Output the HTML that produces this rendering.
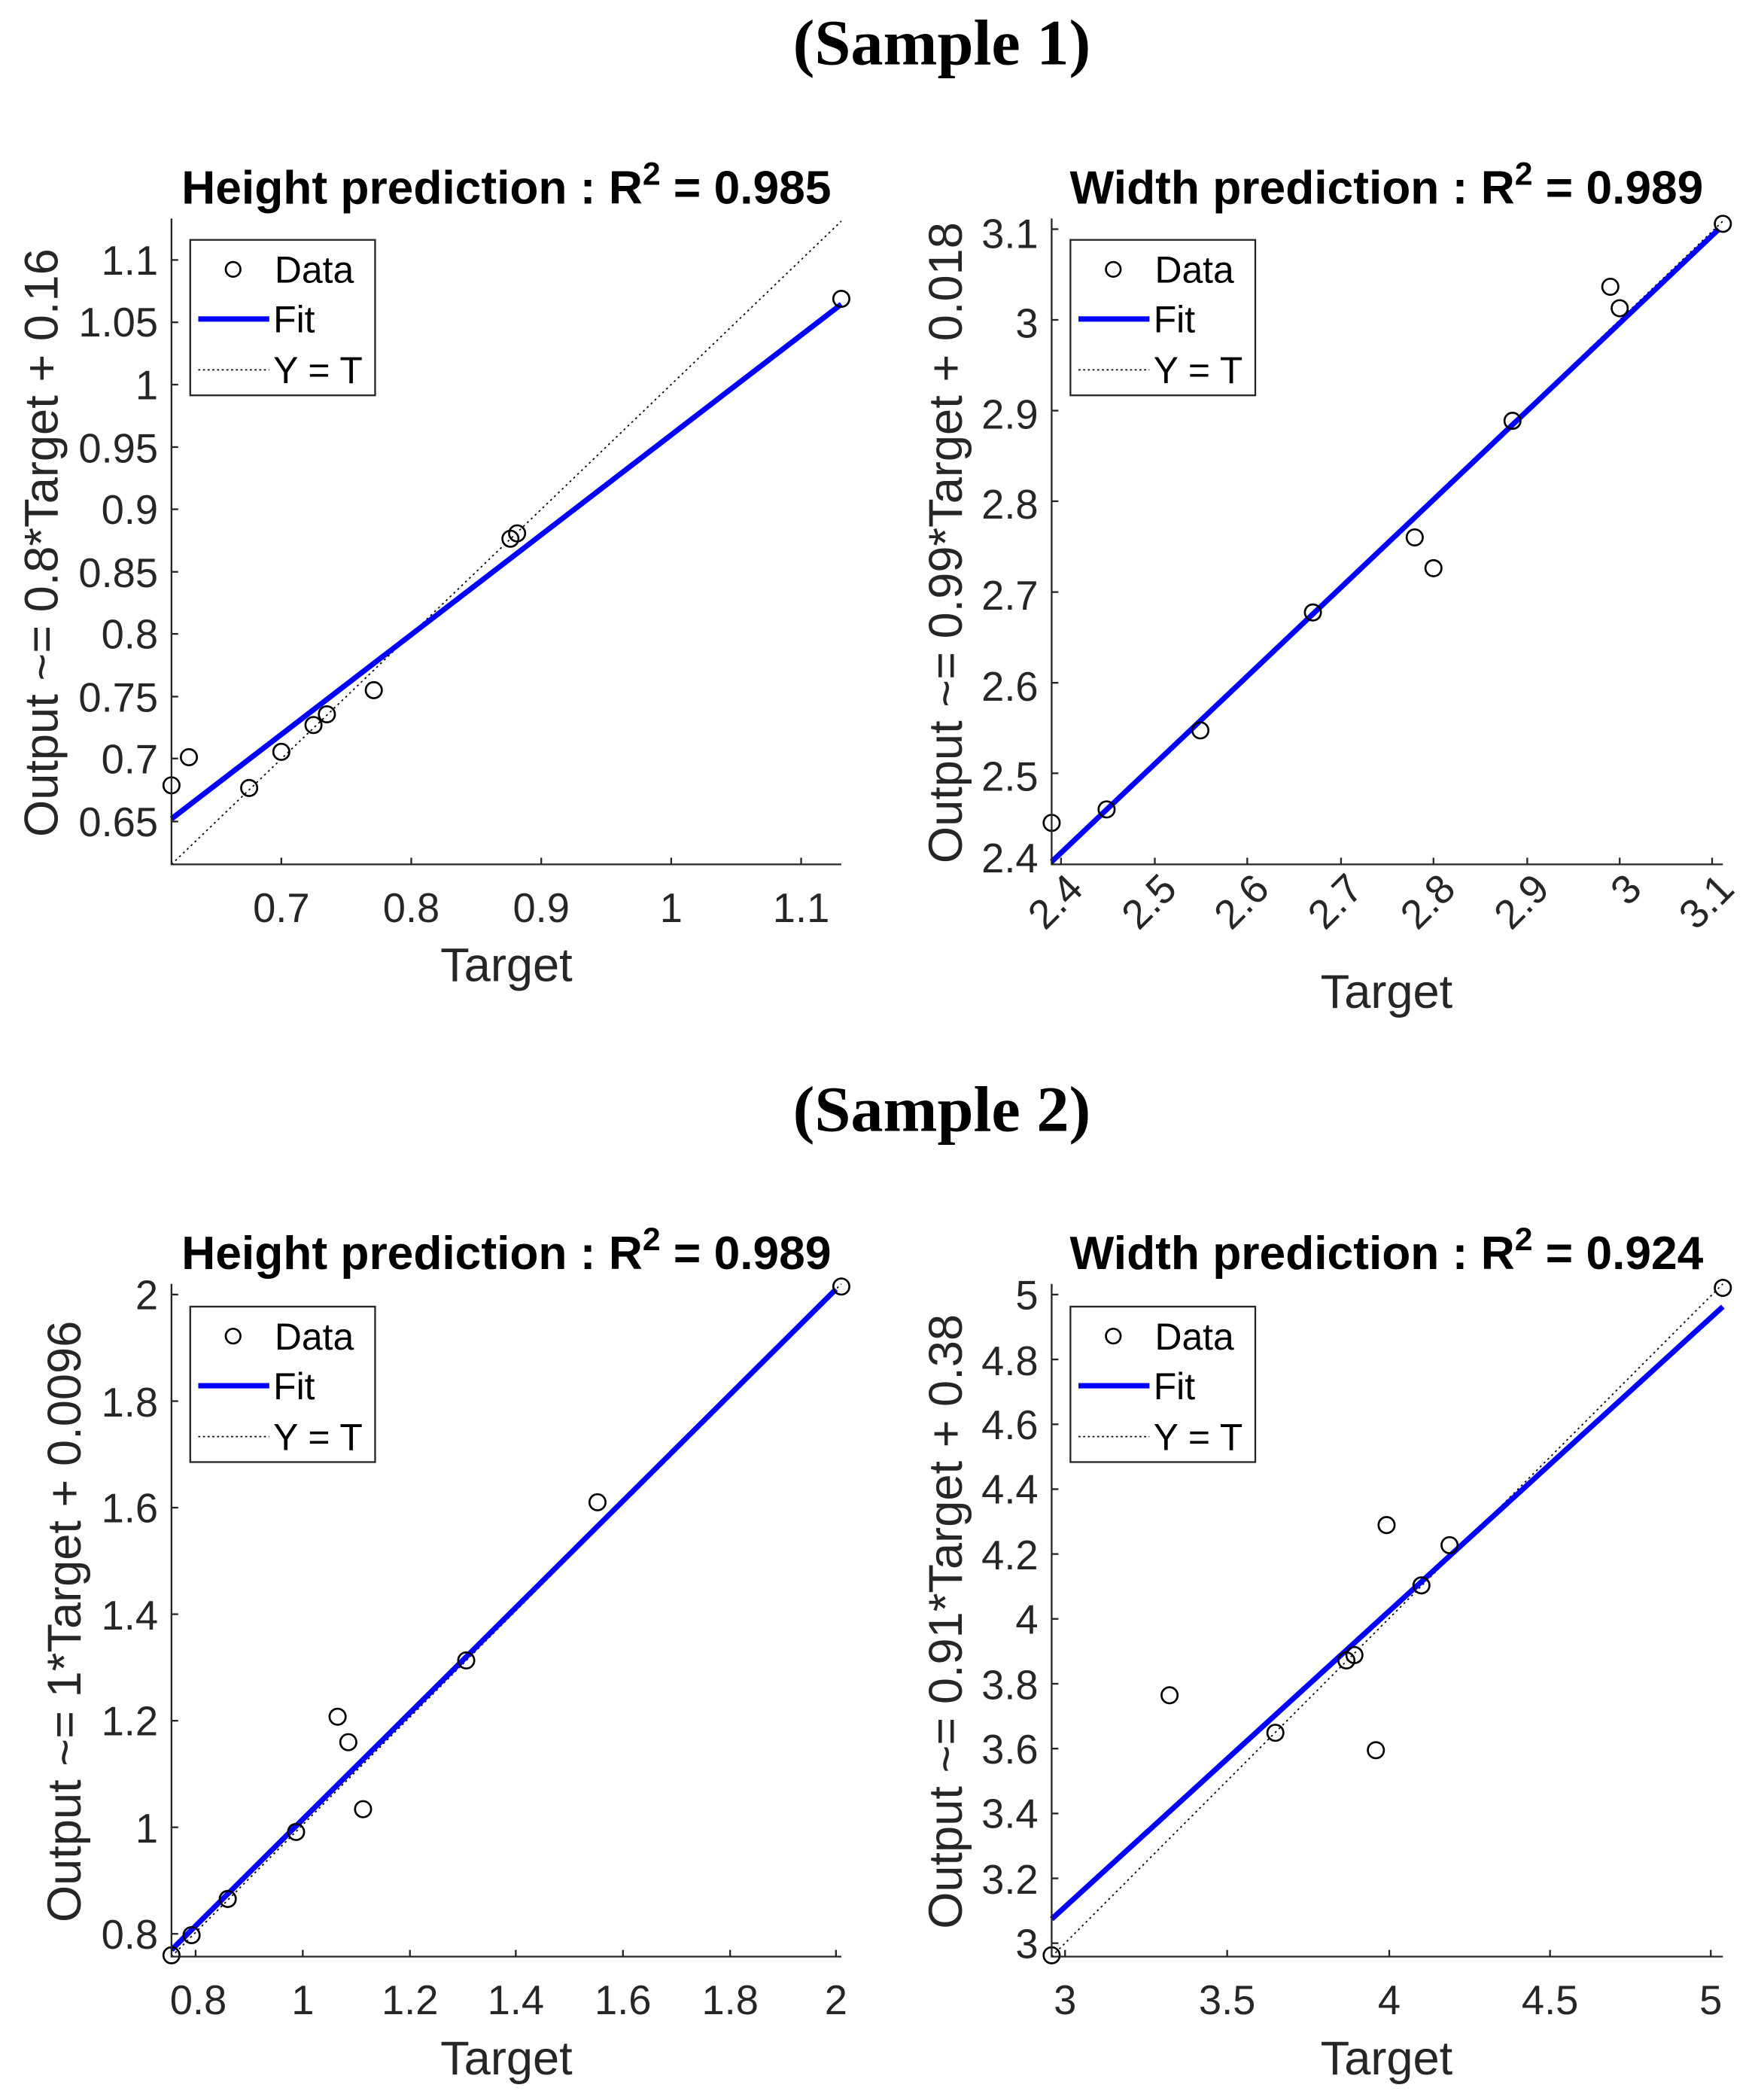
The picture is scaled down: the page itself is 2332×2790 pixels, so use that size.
<!DOCTYPE html>
<html><head><meta charset="utf-8"><style>
html,body{margin:0;padding:0;background:#fff;}
svg{display:block;}
text{font-family:"Liberation Sans",sans-serif;fill:#262626;}
.t{font-weight:bold;fill:#000;font-size:35px;}
.tk{font-size:30.5px;}
.lb{font-size:35.5px;}
.lg{font-size:28px;fill:#000;}
.hd{font-family:"Liberation Serif",serif;font-weight:bold;font-size:48.5px;fill:#000;}
</style></head><body>
<svg width="2332" height="2790" viewBox="0 0 1310 1567" preserveAspectRatio="none" xmlns="http://www.w3.org/2000/svg">
<rect width="1310" height="1567" fill="#fff"/>
<text class="hd" x="703" y="48" text-anchor="middle">(Sample 1)</text>
<text class="hd" x="703" y="844" text-anchor="middle">(Sample 2)</text>

<!-- Plot 1 -->
<g>
<text class="t" x="378" y="152" text-anchor="middle">Height prediction : R<tspan dy="-14" font-size="24">2</tspan><tspan dy="14"> = 0.985</tspan></text>
<line x1="128" y1="645" x2="628" y2="165" stroke="#000" stroke-width="1" stroke-dasharray="1.5,2.5"/>
<line x1="128" y1="611" x2="628" y2="227" stroke="#0000ff" stroke-width="4"/>
<g fill="none" stroke="#000" stroke-width="1.5">
<circle cx="128" cy="586" r="6"/><circle cx="141" cy="565" r="6"/><circle cx="186" cy="588" r="6"/><circle cx="210" cy="561" r="6"/><circle cx="234" cy="541" r="6"/><circle cx="244" cy="533" r="6"/><circle cx="279" cy="515" r="6"/><circle cx="381" cy="402" r="6"/><circle cx="386" cy="398" r="6"/><circle cx="628" cy="223" r="6"/>
</g>
<path d="M128 163 V645 H628" fill="none" stroke="#262626" stroke-width="1.3"/>
<g stroke="#262626" stroke-width="1.3">
<line x1="210" y1="645" x2="210" y2="640"/><line x1="307" y1="645" x2="307" y2="640"/><line x1="404" y1="645" x2="404" y2="640"/><line x1="501" y1="645" x2="501" y2="640"/><line x1="598" y1="645" x2="598" y2="640"/>
<line x1="128" y1="194" x2="133" y2="194"/><line x1="128" y1="240.5" x2="133" y2="240.5"/><line x1="128" y1="287" x2="133" y2="287"/><line x1="128" y1="333.6" x2="133" y2="333.6"/><line x1="128" y1="380" x2="133" y2="380"/><line x1="128" y1="426.7" x2="133" y2="426.7"/><line x1="128" y1="473" x2="133" y2="473"/><line x1="128" y1="519.8" x2="133" y2="519.8"/><line x1="128" y1="566" x2="133" y2="566"/><line x1="128" y1="613" x2="133" y2="613"/>
</g>
<g text-anchor="middle">
<text class="tk" x="210" y="688">0.7</text><text class="tk" x="307" y="688">0.8</text><text class="tk" x="404" y="688">0.9</text><text class="tk" x="501" y="688">1</text><text class="tk" x="598" y="688">1.1</text>
</g>
<g text-anchor="end">
<text class="tk" x="118" y="205">1.1</text><text class="tk" x="118" y="251">1.05</text><text class="tk" x="118" y="298">1</text><text class="tk" x="118" y="345">0.95</text><text class="tk" x="118" y="391">0.9</text><text class="tk" x="118" y="438">0.85</text><text class="tk" x="118" y="484">0.8</text><text class="tk" x="118" y="531">0.75</text><text class="tk" x="118" y="577">0.7</text><text class="tk" x="118" y="624">0.65</text>
</g>
<text class="lb" x="378" y="732" text-anchor="middle">Target</text>
<text class="lb" transform="translate(43,405) rotate(-90)" text-anchor="middle">Output ~= 0.8*Target + 0.16</text>
<rect x="142" y="179" width="138" height="116" fill="#fff" stroke="#262626" stroke-width="1.3"/>
<circle cx="174" cy="201" r="5.5" fill="none" stroke="#000" stroke-width="1.5"/>
<text class="lg" x="205" y="211">Data</text>
<line x1="148" y1="238" x2="201" y2="238" stroke="#0000ff" stroke-width="4"/>
<text class="lg" x="204" y="248">Fit</text>
<line x1="148" y1="276" x2="201" y2="276" stroke="#000" stroke-width="1" stroke-dasharray="1.5,2"/>
<text class="lg" x="204" y="286">Y = T</text>
</g>

<!-- Plot 2 -->
<g>
<text class="t" x="1035" y="152" text-anchor="middle">Width prediction : R<tspan dy="-14" font-size="24">2</tspan><tspan dy="14"> = 0.989</tspan></text>
<line x1="785" y1="645" x2="1286" y2="165" stroke="#000" stroke-width="1" stroke-dasharray="1.5,2.5"/>
<line x1="785" y1="643" x2="1283" y2="171" stroke="#0000ff" stroke-width="4"/>
<g fill="none" stroke="#000" stroke-width="1.5">
<circle cx="785" cy="614" r="6"/><circle cx="826" cy="604" r="6"/><circle cx="896" cy="545" r="6"/><circle cx="980" cy="457" r="6"/><circle cx="1056" cy="401" r="6"/><circle cx="1070" cy="424" r="6"/><circle cx="1129" cy="314" r="6"/><circle cx="1202" cy="214" r="6"/><circle cx="1209" cy="230" r="6"/><circle cx="1286" cy="167" r="6"/>
</g>
<path d="M785 163 V645 H1286" fill="none" stroke="#262626" stroke-width="1.3"/>
<g stroke="#262626" stroke-width="1.3">
<line x1="792" y1="645" x2="792" y2="640"/><line x1="862" y1="645" x2="862" y2="640"/><line x1="931" y1="645" x2="931" y2="640"/><line x1="1001" y1="645" x2="1001" y2="640"/><line x1="1070" y1="645" x2="1070" y2="640"/><line x1="1140" y1="645" x2="1140" y2="640"/><line x1="1209" y1="645" x2="1209" y2="640"/><line x1="1278" y1="645" x2="1278" y2="640"/>
<line x1="785" y1="171" x2="790" y2="171"/><line x1="785" y1="238.7" x2="790" y2="238.7"/><line x1="785" y1="306.4" x2="790" y2="306.4"/><line x1="785" y1="374" x2="790" y2="374"/><line x1="785" y1="441.8" x2="790" y2="441.8"/><line x1="785" y1="509.5" x2="790" y2="509.5"/><line x1="785" y1="577" x2="790" y2="577"/>
</g>
<g text-anchor="end">
<text class="tk" transform="translate(810,665) rotate(-45)">2.4</text>
<text class="tk" transform="translate(880,665) rotate(-45)">2.5</text>
<text class="tk" transform="translate(949,665) rotate(-45)">2.6</text>
<text class="tk" transform="translate(1019,665) rotate(-45)">2.7</text>
<text class="tk" transform="translate(1088,665) rotate(-45)">2.8</text>
<text class="tk" transform="translate(1158,665) rotate(-45)">2.9</text>
<text class="tk" transform="translate(1227,665) rotate(-45)">3</text>
<text class="tk" transform="translate(1296,665) rotate(-45)">3.1</text>
</g>
<g text-anchor="end">
<text class="tk" x="775" y="185">3.1</text><text class="tk" x="775" y="252">3</text><text class="tk" x="775" y="320">2.9</text><text class="tk" x="775" y="387">2.8</text><text class="tk" x="775" y="455">2.7</text><text class="tk" x="775" y="523">2.6</text><text class="tk" x="775" y="590">2.5</text><text class="tk" x="775" y="651">2.4</text>
</g>
<text class="lb" x="1035" y="752" text-anchor="middle">Target</text>
<text class="lb" transform="translate(718,405) rotate(-90)" text-anchor="middle">Output ~= 0.99*Target + 0.018</text>
<rect x="799" y="179" width="138" height="116" fill="#fff" stroke="#262626" stroke-width="1.3"/>
<circle cx="831" cy="201" r="5.5" fill="none" stroke="#000" stroke-width="1.5"/>
<text class="lg" x="862" y="211">Data</text>
<line x1="805" y1="238" x2="858" y2="238" stroke="#0000ff" stroke-width="4"/>
<text class="lg" x="861" y="248">Fit</text>
<line x1="805" y1="276" x2="858" y2="276" stroke="#000" stroke-width="1" stroke-dasharray="1.5,2"/>
<text class="lg" x="861" y="286">Y = T</text>
</g>

<!-- Plot 3 -->
<g>
<text class="t" x="378" y="947" text-anchor="middle">Height prediction : R<tspan dy="-14" font-size="24">2</tspan><tspan dy="14"> = 0.989</tspan></text>
<line x1="128" y1="1460" x2="628" y2="958" stroke="#000" stroke-width="1" stroke-dasharray="1.5,2.5"/>
<line x1="128" y1="1455" x2="624" y2="962" stroke="#0000ff" stroke-width="4"/>
<g fill="none" stroke="#000" stroke-width="1.5">
<circle cx="128" cy="1459" r="6"/><circle cx="143" cy="1444" r="6"/><circle cx="170" cy="1417" r="6"/><circle cx="221" cy="1367" r="6"/><circle cx="252" cy="1281" r="6"/><circle cx="260" cy="1300" r="6"/><circle cx="271" cy="1350" r="6"/><circle cx="348" cy="1239" r="6"/><circle cx="446" cy="1121" r="6"/><circle cx="628" cy="960" r="6"/>
</g>
<path d="M128 958 V1460 H628" fill="none" stroke="#262626" stroke-width="1.3"/>
<g stroke="#262626" stroke-width="1.3">
<line x1="146" y1="1460" x2="146" y2="1455"/><line x1="226" y1="1460" x2="226" y2="1455"/><line x1="306" y1="1460" x2="306" y2="1455"/><line x1="385" y1="1460" x2="385" y2="1455"/><line x1="465" y1="1460" x2="465" y2="1455"/><line x1="545" y1="1460" x2="545" y2="1455"/><line x1="624" y1="1460" x2="624" y2="1455"/>
<line x1="128" y1="966" x2="133" y2="966"/><line x1="128" y1="1045.5" x2="133" y2="1045.5"/><line x1="128" y1="1125" x2="133" y2="1125"/><line x1="128" y1="1204.5" x2="133" y2="1204.5"/><line x1="128" y1="1284" x2="133" y2="1284"/><line x1="128" y1="1363.5" x2="133" y2="1363.5"/><line x1="128" y1="1443" x2="133" y2="1443"/>
</g>
<g text-anchor="middle">
<text class="tk" x="148" y="1503">0.8</text><text class="tk" x="226" y="1503">1</text><text class="tk" x="306" y="1503">1.2</text><text class="tk" x="385" y="1503">1.4</text><text class="tk" x="465" y="1503">1.6</text><text class="tk" x="545" y="1503">1.8</text><text class="tk" x="624" y="1503">2</text>
</g>
<g text-anchor="end">
<text class="tk" x="118" y="977">2</text><text class="tk" x="118" y="1057">1.8</text><text class="tk" x="118" y="1136">1.6</text><text class="tk" x="118" y="1216">1.4</text><text class="tk" x="118" y="1295">1.2</text><text class="tk" x="118" y="1375">1</text><text class="tk" x="118" y="1454">0.8</text>
</g>
<text class="lb" x="378" y="1548" text-anchor="middle">Target</text>
<text class="lb" transform="translate(60,1210) rotate(-90)" text-anchor="middle">Output ~= 1*Target + 0.0096</text>
<rect x="142" y="975" width="138" height="116" fill="#fff" stroke="#262626" stroke-width="1.3"/>
<circle cx="174" cy="997" r="5.5" fill="none" stroke="#000" stroke-width="1.5"/>
<text class="lg" x="205" y="1007">Data</text>
<line x1="148" y1="1034" x2="201" y2="1034" stroke="#0000ff" stroke-width="4"/>
<text class="lg" x="204" y="1044">Fit</text>
<line x1="148" y1="1072" x2="201" y2="1072" stroke="#000" stroke-width="1" stroke-dasharray="1.5,2"/>
<text class="lg" x="204" y="1082">Y = T</text>
</g>

<!-- Plot 4 -->
<g>
<text class="t" x="1035" y="947" text-anchor="middle">Width prediction : R<tspan dy="-14" font-size="24">2</tspan><tspan dy="14"> = 0.924</tspan></text>
<line x1="785" y1="1460" x2="1286" y2="958" stroke="#000" stroke-width="1" stroke-dasharray="1.5,2.5"/>
<line x1="785" y1="1432" x2="1286" y2="975" stroke="#0000ff" stroke-width="4"/>
<g fill="none" stroke="#000" stroke-width="1.5">
<circle cx="785" cy="1459" r="6"/><circle cx="873" cy="1265" r="6"/><circle cx="952" cy="1293" r="6"/><circle cx="1005" cy="1239" r="6"/><circle cx="1011" cy="1235" r="6"/><circle cx="1027" cy="1306" r="6"/><circle cx="1035" cy="1138" r="6"/><circle cx="1061" cy="1183" r="6"/><circle cx="1082" cy="1153" r="6"/><circle cx="1286" cy="961" r="6"/>
</g>
<path d="M785 958 V1460 H1286" fill="none" stroke="#262626" stroke-width="1.3"/>
<g stroke="#262626" stroke-width="1.3">
<line x1="795" y1="1460" x2="795" y2="1455"/><line x1="916" y1="1460" x2="916" y2="1455"/><line x1="1037" y1="1460" x2="1037" y2="1455"/><line x1="1157" y1="1460" x2="1157" y2="1455"/><line x1="1277" y1="1460" x2="1277" y2="1455"/>
<line x1="785" y1="966" x2="790" y2="966"/><line x1="785" y1="1014.4" x2="790" y2="1014.4"/><line x1="785" y1="1062.8" x2="790" y2="1062.8"/><line x1="785" y1="1111.2" x2="790" y2="1111.2"/><line x1="785" y1="1159.6" x2="790" y2="1159.6"/><line x1="785" y1="1208" x2="790" y2="1208"/><line x1="785" y1="1256.4" x2="790" y2="1256.4"/><line x1="785" y1="1304.8" x2="790" y2="1304.8"/><line x1="785" y1="1353.2" x2="790" y2="1353.2"/><line x1="785" y1="1401.6" x2="790" y2="1401.6"/><line x1="785" y1="1450" x2="790" y2="1450"/>
</g>
<g text-anchor="middle">
<text class="tk" x="795" y="1503">3</text><text class="tk" x="916" y="1503">3.5</text><text class="tk" x="1037" y="1503">4</text><text class="tk" x="1157" y="1503">4.5</text><text class="tk" x="1277" y="1503">5</text>
</g>
<g text-anchor="end">
<text class="tk" x="775" y="977">5</text><text class="tk" x="775" y="1026">4.8</text><text class="tk" x="775" y="1074">4.6</text><text class="tk" x="775" y="1122">4.4</text><text class="tk" x="775" y="1171">4.2</text><text class="tk" x="775" y="1219">4</text><text class="tk" x="775" y="1268">3.8</text><text class="tk" x="775" y="1316">3.6</text><text class="tk" x="775" y="1364">3.4</text><text class="tk" x="775" y="1413">3.2</text><text class="tk" x="775" y="1461">3</text>
</g>
<text class="lb" x="1035" y="1548" text-anchor="middle">Target</text>
<text class="lb" transform="translate(718,1210) rotate(-90)" text-anchor="middle">Output ~= 0.91*Target + 0.38</text>
<rect x="799" y="975" width="138" height="116" fill="#fff" stroke="#262626" stroke-width="1.3"/>
<circle cx="831" cy="997" r="5.5" fill="none" stroke="#000" stroke-width="1.5"/>
<text class="lg" x="862" y="1007">Data</text>
<line x1="805" y1="1034" x2="858" y2="1034" stroke="#0000ff" stroke-width="4"/>
<text class="lg" x="861" y="1044">Fit</text>
<line x1="805" y1="1072" x2="858" y2="1072" stroke="#000" stroke-width="1" stroke-dasharray="1.5,2"/>
<text class="lg" x="861" y="1082">Y = T</text>
</g>
</svg>
</body></html>
